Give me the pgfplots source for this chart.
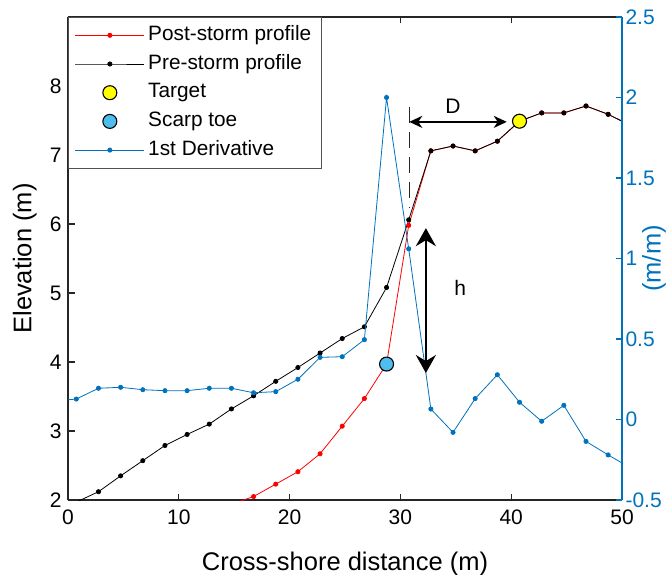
\documentclass[border=0pt]{standalone}
\usepackage{pgfplots}
\pgfplotsset{compat=1.18}
\usepackage{pgfplotstable}
\usepackage{fontspec}
\setmainfont{Liberation Sans}
\usetikzlibrary{arrows.meta}

\definecolor{mblue}{RGB}{0,114,189}
\definecolor{mcyan}{RGB}{77,190,238}
\definecolor{myellow}{RGB}{255,255,0}
\definecolor{axgray}{RGB}{38,38,38}

% cross-shore distance (m), elevation (m)
\pgfplotstableread{
x z
14.75 1.94
16.75 2.05
18.75 2.23
20.75 2.41
22.75 2.67
24.75 3.07
26.75 3.47
28.75 3.97
30.75 5.98
32.75 7.06
34.75 7.13
36.75 7.06
38.75 7.20
40.75 7.49
42.75 7.61
44.75 7.61
46.75 7.71
48.75 7.59
50.75 7.43
}\poststorm

\pgfplotstableread{
x z
0.75 1.97
2.75 2.12
4.75 2.35
6.75 2.57
8.75 2.79
10.75 2.95
12.75 3.10
14.75 3.32
16.75 3.51
18.75 3.72
20.75 3.92
22.75 4.13
24.75 4.34
26.75 4.51
28.75 5.08
30.75 6.06
32.75 7.06
34.75 7.13
36.75 7.06
38.75 7.20
40.75 7.49
42.75 7.61
44.75 7.61
46.75 7.71
48.75 7.59
50.75 7.43
}\prestorm

% first derivative of the profile (m/m)
\pgfplotstableread{
x d
-1.25 0.115
0.75 0.127
2.75 0.194
4.75 0.200
6.75 0.185
8.75 0.179
10.75 0.179
12.75 0.194
14.75 0.194
16.75 0.166
18.75 0.173
20.75 0.250
22.75 0.386
24.75 0.390
26.75 0.496
28.75 2.000
30.75 1.060
32.75 0.065
34.75 -0.080
36.75 0.130
38.75 0.278
40.75 0.107
42.75 -0.011
44.75 0.088
46.75 -0.136
48.75 -0.220
50.75 -0.300
}\deriv

\pgfplotsset{
  common/.style={
    scale only axis, width=554bp, height=483bp,
    at={(0,0)}, anchor=south west,
    xmin=0, xmax=50,
    tick align=inside,
    major tick length=6.5bp,
    ticklabel style={font=\fontsize{21bp}{25bp}\selectfont},
    label style={font=\fontsize{25.5bp}{30bp}\selectfont},
  },
  lineleg/.style={legend image code/.code={
    \draw[mark repeat=2,mark phase=2] plot coordinates {(0bp,0bp) (34.5bp,0bp) (69bp,0bp)};}},
  markleg/.style={legend image code/.code={
    \path[draw=none, fill=none] (0bp,0bp) -- (69bp,0bp);
    \draw plot coordinates {(34.5bp,0bp)};}},
}

\begin{document}
\begin{tikzpicture}
\useasboundingbox (-68bp,-75bp) rectangle (602bp,500bp);

\begin{axis}[common,
  ymin=2, ymax=9,
  axis y line*=left,
  axis line style={axgray, line width=1.1bp},
  every tick/.style={axgray, line width=1.1bp},
  xtick={0,10,20,30,40,50}, xticklabels={0,10,20,30,40,50},
  ytick={2,3,4,5,6,7,8}, yticklabels={2,3,4,5,6,7,8},
  xticklabel style={yshift=-6bp},
  yticklabel style={xshift=-3bp},
  xlabel={Cross-shore distance (m)},
  ylabel={Elevation (m)},
  xlabel style={at={(axis description cs:0.5,-0.132)}, anchor=center},
  ylabel style={at={(axis description cs:-0.078,0.5)}, anchor=center},
  legend style={at={(0,1)}, anchor=north west, draw=axgray!80, line width=0.9bp,
    fill=white, inner xsep=6.5bp, inner ysep=3.5bp, row sep=0bp,
    font=\fontsize{20.8bp}{24bp}\selectfont,
    nodes={inner xsep=3.5bp, inner ysep=4.35bp, text height=15bp, text depth=5bp}},
  legend cell align=left,
]
\addplot[red, line width=0.8bp, mark=*, mark size=2.1bp, lineleg] table[x=x,y=z] {\poststorm};
\addlegendentry{Post-storm profile}
\addplot[black, line width=0.8bp, mark=*, mark size=2.1bp, lineleg] table[x=x,y=z] {\prestorm};
\addlegendentry{Pre-storm profile}
\addplot[only marks, mark=*, mark size=7bp, draw=black, fill=myellow, line width=1.1bp, markleg]
  coordinates {(40.75,7.49)};
\addlegendentry{Target}
\addplot[only marks, mark=*, mark size=7bp, draw=black, fill=mcyan, line width=1.1bp, markleg]
  coordinates {(28.75,3.97)};
\addlegendentry{Scarp toe}
\addlegendimage{mblue, line width=0.8bp, mark=*, mark size=2.1bp, lineleg}
\addlegendentry{1st Derivative}

\coordinate (dashTop) at (axis cs:30.8,7.70);
\coordinate (dashBot) at (axis cs:30.8,6.23);
\coordinate (dL) at (axis cs:30.8,7.48);
\coordinate (dR) at (axis cs:39.6,7.48);
\coordinate (dLab) at (axis cs:34.75,7.71);
\coordinate (hTop) at (axis cs:32.3,5.94);
\coordinate (hBot) at (axis cs:32.3,3.84);
\coordinate (hLab) at (axis cs:35.4,5.07);
\end{axis}

\begin{axis}[common,
  ymin=-0.5, ymax=2.5,
  axis x line=none,
  axis y line*=right,
  axis line style={mblue, line width=1.5bp},
  every tick/.style={mblue, line width=1.5bp},
  ytick={-0.5,0,0.5,1,1.5,2,2.5},
  yticklabels={-0.5,0,0.5,1,1.5,2,2.5},
  yticklabel style={mblue},
  ylabel={(m/m)},
  ylabel style={mblue, at={(axis description cs:1.058,0.5)}, anchor=center},
]
\addplot[mblue, line width=0.8bp, mark=*, mark size=2.1bp] table[x=x,y=d] {\deriv};
\end{axis}

% distance D and scarp height h
\draw[axgray, line width=1.2bp, dash pattern=on 16bp off 9bp] (dashTop) -- (dashBot);
\draw[black, line width=2bp, {Stealth[length=13bp,width=12bp,inset=4bp]}-{Stealth[length=13bp,width=12bp,inset=4bp]}] (dL) -- (dR);
\node[font=\fontsize{21bp}{25bp}\selectfont] at (dLab) {D};
\draw[black, line width=2.5bp, {Stealth[length=18bp,width=20bp,inset=6bp]}-{Stealth[length=18bp,width=20bp,inset=6bp]}] (hTop) -- (hBot);
\node[font=\fontsize{21bp}{25bp}\selectfont] at (hLab) {h};
\end{tikzpicture}
\end{document}
